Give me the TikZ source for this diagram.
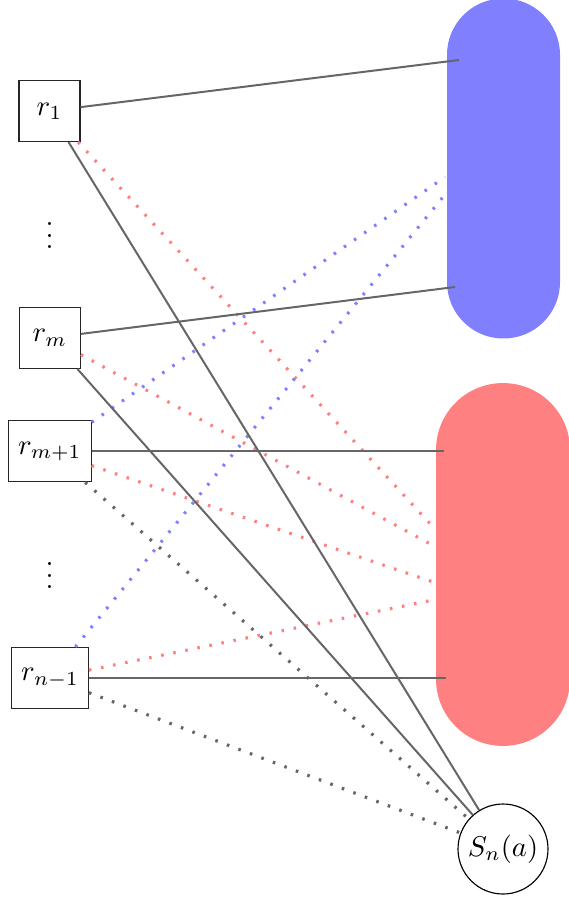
\documentclass[tikz,border=0pt]{standalone}
\begin{document}
\begin{tikzpicture}[x=0.35pt,y=-0.35pt,
  rbox/.style={draw=black!85,line width=0.4pt,fill=white,minimum size=21.35pt,inner sep=0.333em},
  snode/.style={circle,draw=black,line width=0.4pt,fill=white,minimum size=31.5pt,inner sep=0pt},
  bluepill/.style={fill=blue!50,rounded corners=19.7pt,minimum width=39.55pt,minimum height=119pt,inner sep=0pt},
  redpill/.style={fill=red!50,rounded corners=23.4pt,minimum width=46.9pt,minimum height=127pt,inner sep=0pt},
  solidcon/.style={draw=black!60,line width=0.7pt},
  dotcon/.style={line width=1.1pt,dash pattern=on 0.9pt off 3.4pt},
  dotgray/.style={dotcon,draw=black!60},
  dotred/.style={dotcon,draw=red!50},
  dotblue/.style={dotcon,draw=blue!50}]
\useasboundingbox (0,0) rectangle (568,898);
% pills
\node[bluepill] (B) at (503.5,168.5) {};
\node[redpill] (R) at (503,564.5) {};
% left nodes
\node[rbox] (r1) at (49.5,111) {$r_1$};
\node (d1) at (49.7,227) {$\vdots$};
\node[rbox] (rm) at (49.8,337.8) {$r_m$};
\node[rbox] (rm1) at (49.8,451.3) {$r_{m+1}$};
\node (d2) at (49.7,567) {$\vdots$};
\node[rbox] (rn1) at (50,678) {$r_{n-1}$};
\node[snode] (S) at (503,849) {$S_n(a)$};
% endpoints on pills
\coordinate (b1) at (459,60);
\coordinate (b2) at (455,287);
\coordinate (b3) at (445,177);
\coordinate (b4) at (443,197);
\coordinate (p1) at (444,451.3);
\coordinate (p2) at (446,678);
\coordinate (p3) at (435,529);
\coordinate (p4) at (434,546);
\coordinate (p5) at (433,582);
\coordinate (p6) at (433,600);
% dotted connectors
\draw[dotred] (r1) -- (p3);
\draw[dotred] (rm) -- (p4);
\draw[dotred] (rm1) -- (p5);
\draw[dotred] (rn1) -- (p6);
\draw[dotblue] (rm1) -- (b3);
\draw[dotblue] (rn1) -- (b4);
\draw[dotgray] (rm1) -- (S);
\draw[dotgray] (rn1) -- (S);
% solid connectors
\draw[solidcon] (r1) -- (b1);
\draw[solidcon] (rm) -- (b2);
\draw[solidcon] (rm1) -- (p1);
\draw[solidcon] (rn1) -- (p2);
\draw[solidcon] (r1) -- (S);
\draw[solidcon] (rm) -- (S);
\end{tikzpicture}
\end{document}
